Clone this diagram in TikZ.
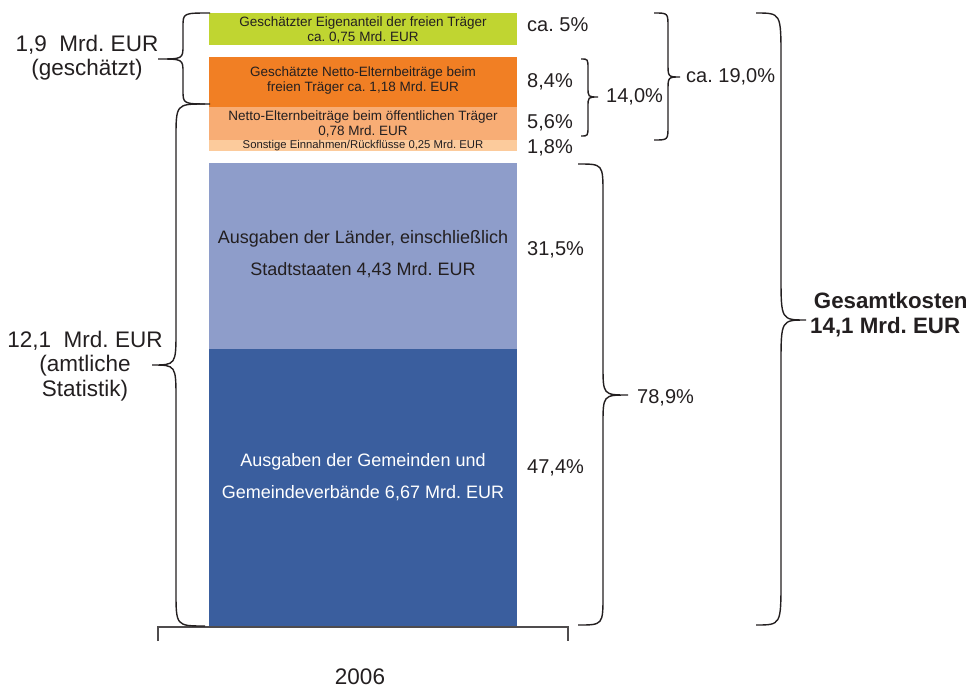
\documentclass[tikz,border=0pt]{standalone}
\usepackage{fontspec}
\setmainfont{Liberation Sans}
\frenchspacing
\definecolor{cgreen}{HTML}{C0D531}
\definecolor{corange}{HTML}{F17F24}
\definecolor{clorange}{HTML}{F8AD75}
\definecolor{cvlorange}{HTML}{FCCB9C}
\definecolor{clblue}{HTML}{8E9DCA}
\definecolor{cdblue}{HTML}{3A5E9E}
\definecolor{ctext}{HTML}{231F20}
\newcommand{\mybrace}[7]{%
  \draw[brc] (#1,#4) .. controls (#2,#4) .. (#2,#4+#7) -- (#2,#5-#7)
    .. controls (#2,#5) .. (#3,#5) .. controls (#2,#5) .. (#2,#5+#7)
    -- (#2,#6-#7) .. controls (#2,#6) .. (#1,#6);}
\begin{document}
\begin{tikzpicture}[x=1pt,y=-1pt,
  brc/.style={draw=ctext,line width=1.4pt},
  bartxt/.style={text=ctext,align=center,inner sep=0pt,font=\fontsize{13.5}{15}\selectfont},
  bigtxt/.style={text=ctext,align=center,inner sep=0pt,font=\fontsize{18}{32}\selectfont},
  pct/.style={text=ctext,anchor=west,inner sep=0pt,font=\fontsize{20}{24}\selectfont},
  lbl/.style={text=ctext,align=center,inner sep=0pt,font=\fontsize{22.5}{24.5}\selectfont}]
\useasboundingbox (0,0) rectangle (971,688);
% bars
\fill[cgreen] (209,13) rectangle (517,45);
\fill[corange] (209,57) rectangle (517,107);
\fill[clorange] (209,107) rectangle (517,140);
\fill[cvlorange] (209,140) rectangle (517,151);
\fill[clblue] (209,163) rectangle (517,349);
\fill[cdblue] (209,349) rectangle (517,627);
% axis
\draw[draw=ctext!80,line width=1.4pt] (158,641) -- (158,627) -- (568,627) -- (568,641);
% bar texts
\node[bartxt] (b1) at (363,30) {Geschätzter Eigenanteil der freien Träger\\ca. 0,75 Mrd. EUR};
\node[bartxt] (b2) at (363,81) {Geschätzte Netto-Elternbeiträge beim\\freien Träger ca. 1,18 Mrd. EUR};
\node[bartxt] (b3) at (363,123.5) {Netto-Elternbeiträge beim öffentlichen Träger\\0,78 Mrd. EUR};
\node[bartxt,font=\fontsize{11.3}{12}\selectfont] (b4) at (363,146) {Sonstige Einnahmen/Rückflüsse 0,25 Mrd. EUR};
\node[bigtxt] (b5) at (363,254.5) {Ausgaben der Länder, einschließlich\\Stadtstaaten 4,43 Mrd. EUR};
\node[bigtxt,text=white] (b6) at (363,477) {Ausgaben der Gemeinden und\\Gemeindeverbände 6,67 Mrd. EUR};
% percentages
\node[pct] (p1) at (527,25) {ca. 5\%};
\node[pct] (p2) at (527,82) {8,4\%};
\node[pct] (p3) at (527,123) {5,6\%};
\node[pct] (p4) at (527,148) {1,8\%};
\node[pct] (p5) at (527,250) {31,5\%};
\node[pct] (p6) at (527,468) {47,4\%};
\node[pct] (p7) at (606,97) {14,0\%};
\node[pct] (p8) at (686,77) {ca. 19,0\%};
\node[pct] (p9) at (637,398) {78,9\%};
% braces
\mybrace{210}{183}{158}{13}{59}{104}{14}
\mybrace{205}{176}{152}{104}{365}{626}{35}
\mybrace{581}{588}{598}{59}{97}{136}{10}
\mybrace{654}{668}{680}{13}{77}{140}{14}
\mybrace{578}{603}{628}{164}{395}{625}{30}
\mybrace{756}{781}{806}{13}{320}{625}{45}
% side labels
\node[lbl] (l1) at (87,57.5) {1,9\ \ Mrd. EUR\\(geschätzt)};
\node[lbl] (l2) at (85,366) {12,1\ \ Mrd. EUR\\(amtliche\\Statistik)};
\node[lbl,align=left,anchor=west,font=\bfseries\fontsize{22.3}{25}\selectfont] (l3) at (810,314.5) {\,Gesamtkosten\\14,1 Mrd. EUR};
\node[lbl] (l4) at (360,677) {2006};
\end{tikzpicture}
\end{document}
